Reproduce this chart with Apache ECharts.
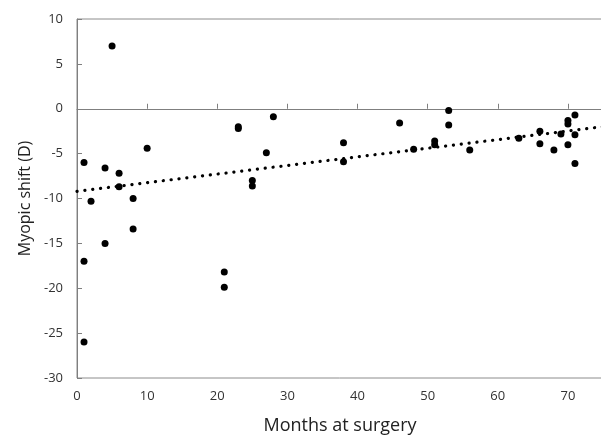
<!DOCTYPE html>
<html>
<head>
    <meta charset="utf-8">
    <title>Myopic shift vs months at surgery</title>
    <script src="https://cdn.jsdelivr.net/npm/echarts@6/dist/echarts.min.js"></script>
    <style>
        html, body { margin: 0; padding: 0; background: #fff; }
    </style>
</head>
<body>
<div id="main" style="width: 601px;height:436px;"></div>
<script>
    // months at surgery / myopic shift (D)
    var months = [5, 1, 1, 1, 2, 4, 4, 6, 6, 8, 8, 10, 21, 21, 23, 23, 25, 25, 27, 28,
                  38, 38, 46, 48, 51, 51, 53, 53, 56, 63, 66, 66, 68, 69, 70, 70, 70, 71, 71, 71];
    var shift = [7.0, -6.0, -17.0, -26.0, -10.3, -6.6, -15.0, -7.2, -8.7, -10.0, -13.4, -4.4, -18.2, -19.9, -2.0, -2.2, -8.0, -8.6, -4.9, -0.9,
                 -3.8, -5.9, -1.6, -4.5, -3.6, -4.0, -0.2, -1.8, -4.6, -3.3, -2.5, -3.9, -4.6, -2.8, -1.3, -1.7, -4.0, -0.7, -2.9, -6.1];
    // linear trend line ends
    var trendX = [0, 75];
    var trendY = [-9.2, -2.0];
    var xTicks = [0, 10, 20, 30, 40, 50, 60, 70];
    var yTicks = [-30, -25, -20, -15, -10, -5, 0, 5, 10];

    var points = months.map(function (m, i) { return [m, shift[i]]; });
    var trend = trendX.map(function (x, i) { return [x, trendY[i]]; });

    var font = '"Open Sans", "Noto Sans", sans-serif';
    var myChart = echarts.init(document.getElementById('main'));
    myChart.setOption({
        animation: false,
        textStyle: { fontFamily: font },
        grid: {
            left: 77, right: -2, top: 19, bottom: 58,
            outerBoundsMode: 'none', containLabel: false,
            show: true, borderColor: '#8c8c8c', borderWidth: 1
        },
        xAxis: {
            type: 'value', min: 0, max: 75, interval: 10,
            name: 'Months at surgery', nameLocation: 'middle', nameGap: 39,
            nameTextStyle: { fontSize: 18, color: '#222', fontFamily: font },
            axisLine: { lineStyle: { color: '#7f7f7f' } },
            axisTick: { inside: true, length: 5, lineStyle: { color: '#7f7f7f' } },
            axisLabel: {
                fontSize: 13, color: '#333', margin: 12,
                formatter: function (v) { return xTicks.indexOf(v) >= 0 ? v : ''; }
            },
            splitLine: { show: false }
        },
        yAxis: {
            type: 'value', min: yTicks[0], max: yTicks[yTicks.length - 1], interval: 5,
            name: 'Myopic shift (D)', nameLocation: 'middle', nameGap: 44, nameRotate: 90,
            nameTextStyle: { fontSize: 16, color: '#222', fontFamily: font },
            axisLine: { show: true, lineStyle: { color: '#7f7f7f' } },
            axisTick: { show: true, inside: true, length: 5, lineStyle: { color: '#7f7f7f' } },
            axisLabel: { fontSize: 13, color: '#333', margin: 14 },
            splitLine: { show: false }
        },
        series: [
            {
                type: 'line',
                data: trend,
                symbol: 'none',
                lineStyle: { color: '#000', width: 3.2, type: [0.1, 7.8], cap: 'round' },
                z: 1
            },
            {
                type: 'scatter',
                data: points,
                symbol: 'circle',
                symbolSize: 7,
                itemStyle: { color: '#000', opacity: 1 },
                z: 2
            }
        ]
    });
</script>
</body>
</html>
